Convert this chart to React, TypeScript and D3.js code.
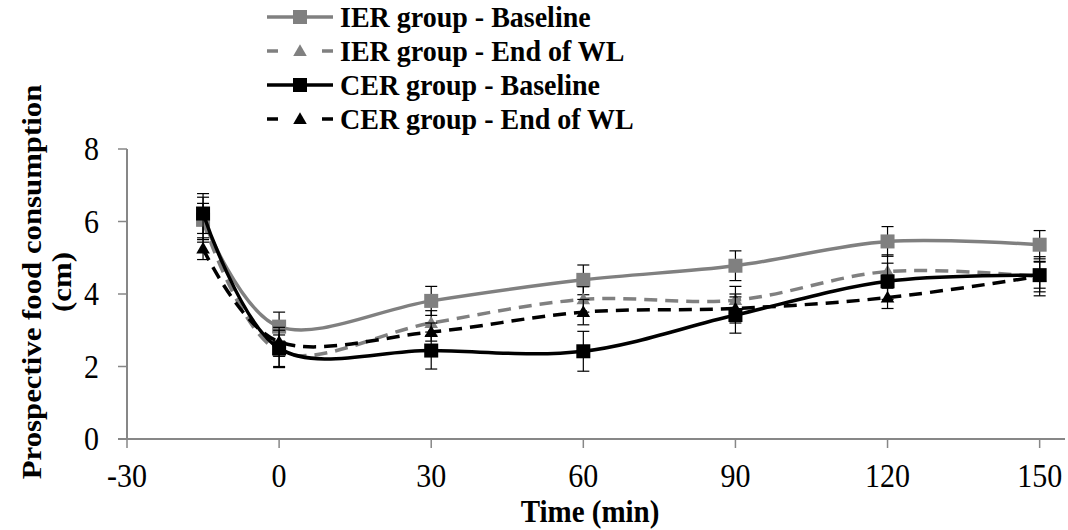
import React, { useRef, useEffect } from "react";
import * as d3 from "d3";

// time points (min) and group means / SE
const times = [-15, 0, 30, 60, 90, 120, 150];
const ierBaseline = [6.05, 3.1, 3.81, 4.39, 4.78, 5.45, 5.36];
const ierBaselineErr = [0.62, 0.4, 0.4, 0.41, 0.41, 0.41, 0.39];
const ierEnd = [6.0, 2.42, 3.2, 3.85, 3.83, 4.62, 4.48];
const ierEndErr = [0.5, 0.45, 0.34, 0.35, 0.38, 0.46, 0.42];
const cerBaseline = [6.22, 2.5, 2.44, 2.42, 3.42, 4.35, 4.52];
const cerBaselineErr = [0.55, 0.5, 0.51, 0.55, 0.5, 0.5, 0.36];
const cerEnd = [5.25, 2.68, 2.95, 3.5, 3.6, 3.9, 4.49];
const cerEndErr = [0.3, 0.4, 0.25, 0.35, 0.4, 0.3, 0.54];

const xTicks = [-30, 0, 30, 60, 90, 120, 150];
const yTicks = [0, 2, 4, 6, 8];
const seriesNames = [
    "IER group - Baseline",
    "IER group - End of WL",
    "CER group - Baseline",
    "CER group - End of WL",
];

const W = 1068;
const H = 530;
const FONT = "'Liberation Serif', 'Times New Roman', serif";
const GREY = "#808080";
const AXIS = "#878787";

const App = () => {
    const svgRef = useRef<SVGSVGElement>(null);

    useEffect(() => {
        const svg = d3.select(svgRef.current);
        svg.selectAll("*").remove();

        const x = d3.scaleLinear().domain([-30, 155]).range([127, 1065]);
        const y = d3.scaleLinear().domain([0, 8]).range([439, 149]);

        const series = [
            { name: seriesNames[0], values: ierBaseline, err: ierBaselineErr, color: GREY, dashed: false, marker: "square" },
            { name: seriesNames[1], values: ierEnd, err: ierEndErr, color: GREY, dashed: true, marker: "triangle" },
            { name: seriesNames[2], values: cerBaseline, err: cerBaselineErr, color: "#000", dashed: false, marker: "square" },
            { name: seriesNames[3], values: cerEnd, err: cerEndErr, color: "#000", dashed: true, marker: "triangle" },
        ];

        // axes
        const axes = svg.append("g").attr("stroke", AXIS).attr("stroke-width", 2);
        axes.append("line").attr("x1", x(-30)).attr("x2", x(-30)).attr("y1", y(8)).attr("y2", y(0));
        axes.append("line").attr("x1", x(-30) - 9).attr("x2", x(155)).attr("y1", y(0)).attr("y2", y(0));
        yTicks.forEach((t) => {
            axes.append("line").attr("x1", x(-30) - 9).attr("x2", x(-30)).attr("y1", y(t)).attr("y2", y(t)).attr("stroke-width", 1.5);
        });
        xTicks.forEach((t) => {
            axes.append("line").attr("x1", x(t)).attr("x2", x(t)).attr("y1", y(0)).attr("y2", y(0) + 9).attr("stroke-width", 1.5);
        });

        const label = (tx, ty, text, opts) => {
            const k = opts.stretch || 1.1;
            svg.append("text")
                .attr("transform", `translate(${tx},${ty}) ${opts.rotate ? "rotate(-90) scale(" + k + ",1)" : "scale(1," + k + ")"}`)
                .attr("text-anchor", opts.anchor || "start")
                .style("font-family", FONT)
                .style("font-size", opts.size + "px")
                .style("font-weight", opts.bold ? "bold" : "normal")
                .style("fill", "#000")
                .text(text);
        };

        yTicks.forEach((t) => label(99, y(t) + 11, String(t), { size: 30, anchor: "end" }));
        xTicks.forEach((t) => label(x(t), 487, String(t), { size: 30, anchor: "middle" }));

        label(590, 522, "Time (min)", { size: 29, bold: true, anchor: "middle" });
        label(41, 282, "Prospective food consumption", { size: 28, bold: true, anchor: "middle", rotate: true });
        label(71, 282, "(cm)", { size: 28, bold: true, anchor: "middle", rotate: true });

        const line = d3
            .line()
            .x((d) => x(d[0]))
            .y((d) => y(d[1]))
            .curve(d3.curveCardinal.tension(0));

        const drawMarker = (g, s, cx, cy) => {
            if (s.marker === "square") {
                g.append("rect")
                    .attr("x", cx - 7)
                    .attr("y", cy - 7)
                    .attr("width", 14)
                    .attr("height", 14)
                    .attr("fill", s.color);
            } else {
                g.append("path")
                    .attr("d", d3.symbol(d3.symbolTriangle, 80)())
                    .attr("transform", `translate(${cx},${cy + 1})`)
                    .attr("fill", s.color);
            }
        };

        series.forEach((s) => {
            const g = svg.append("g");
            const pts = times.map((t, i) => [t, s.values[i]]);
            g.append("path")
                .attr("d", line(pts))
                .attr("fill", "none")
                .attr("stroke", s.color)
                .attr("stroke-width", 3.5)
                .attr("stroke-dasharray", s.dashed ? "13,8" : null);

            // error bars
            times.forEach((t, i) => {
                const cx = x(t);
                const lo = y(s.values[i] - s.err[i]);
                const hi = y(s.values[i] + s.err[i]);
                g.append("line").attr("x1", cx).attr("x2", cx).attr("y1", lo).attr("y2", hi).attr("stroke", "#000").attr("stroke-width", 1.2);
                [lo, hi].forEach((yy) => {
                    g.append("line").attr("x1", cx - 6).attr("x2", cx + 6).attr("y1", yy).attr("y2", yy).attr("stroke", "#000").attr("stroke-width", 1.2);
                });
            });

            times.forEach((t, i) => drawMarker(g, s, x(t), y(s.values[i])));
        });

        // legend
        const rowY = [17, 51, 85, 119];
        series.forEach((s, i) => {
            const g = svg.append("g");
            g.append("line")
                .attr("x1", 267)
                .attr("x2", 333)
                .attr("y1", rowY[i])
                .attr("y2", rowY[i])
                .attr("stroke", s.color)
                .attr("stroke-width", 3.5)
                .attr("stroke-dasharray", s.dashed ? "11,44" : null);
            drawMarker(g, s, 300, rowY[i]);
            label(340, rowY[i] + 10, s.name, { size: 28, bold: true, stretch: 1.06 });
        });
    });

    return (
        <svg
            ref={svgRef}
            width={W}
            height={H}
            style={{ position: "absolute", left: 0, top: 0, background: "#fff" }}
        />
    );
};

export default App;
